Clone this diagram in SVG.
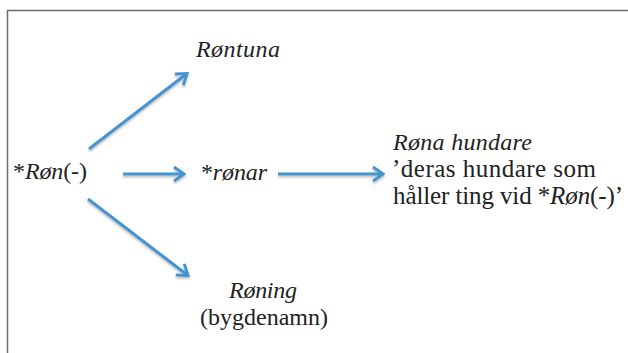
<svg xmlns="http://www.w3.org/2000/svg" width="628" height="353" viewBox="0 0 628 353" font-family="Liberation Serif, serif">
  <style>
    .frame { stroke: #6b6b6b; stroke-width: 1.5; fill: none; }
    text { font-family: "Liberation Serif", serif; font-size: 24px; fill: #222222; }
    .big { font-size: 25px; }
    .i { font-style: italic; }
    .arr { stroke: #4593cf; stroke-width: 3; fill: none; stroke-linecap: butt; }
  </style>
  <defs>
    <marker id="head" markerUnits="userSpaceOnUse" markerWidth="20" markerHeight="20" refX="11" refY="7" orient="auto" overflow="visible">
      <path d="M1,0 L11,7 L1,14" fill="none" stroke="#4593cf" stroke-width="3" stroke-linejoin="miter"/>
    </marker>
    <filter id="sh" x="-20%" y="-20%" width="140%" height="160%">
      <feGaussianBlur in="SourceAlpha" stdDeviation="1"/>
      <feOffset dx="0" dy="1.5" result="b"/>
      <feComponentTransfer><feFuncA type="linear" slope="0.25"/></feComponentTransfer>
      <feMerge><feMergeNode/><feMergeNode in="SourceGraphic"/></feMerge>
    </filter>
  </defs>
  <rect width="628" height="353" fill="#ffffff"/>
  <path class="frame" d="M7.5,353 V10.5 H628"/>

  <g id="connectors" filter="url(#sh)">
    <line class="arr" x1="89" y1="149" x2="187" y2="73.5" marker-end="url(#head)"/>
    <line class="arr" x1="123" y1="174" x2="184" y2="174" marker-end="url(#head)"/>
    <line class="arr" x1="278" y1="174" x2="383" y2="174" marker-end="url(#head)"/>
    <line class="arr" x1="88" y1="199" x2="188" y2="275.5" marker-end="url(#head)"/>
  </g>

  <g id="node-ron">
    <text font-family="Liberation Serif" x="13" y="179" textLength="74">*<tspan class="i">Røn</tspan>(-)</text>
  </g>
  <g id="node-rontuna">
    <text class="i" font-family="Liberation Serif" x="196" y="57" textLength="84">Røntuna</text>
  </g>
  <g id="node-ronar">
    <text font-family="Liberation Serif" x="201" y="180" textLength="66">*<tspan class="i">rønar</tspan></text>
  </g>
  <g id="node-rona-hundare">
    <text class="i" font-family="Liberation Serif" x="393" y="150" textLength="139">Røna hundare</text>
    <text class="big" font-family="Liberation Serif" x="392" y="177" textLength="204">’deras hundare som</text>
    <text class="big" font-family="Liberation Serif" x="393" y="204" textLength="230">håller ting vid *<tspan class="i">Røn</tspan>(-)’</text>
  </g>
  <g id="node-roning">
    <text class="i" font-family="Liberation Serif" x="229" y="298" textLength="68">Røning</text>
    <text font-family="Liberation Serif" x="200" y="325" textLength="128">(bygdenamn)</text>
  </g>
</svg>
